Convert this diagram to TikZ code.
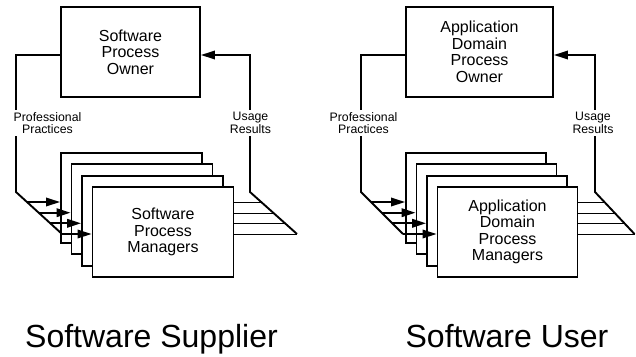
\documentclass[tikz,border=0pt]{standalone}
\usepackage{fontspec}
\setmainfont{Liberation Sans}
\usetikzlibrary{arrows.meta,backgrounds}
\begin{document}
\begin{tikzpicture}[x=1pt,y=-1pt,
  line width=1.9pt, line join=miter,
  box/.style={draw, fill=white, rectangle, inner sep=0pt, minimum height=90pt, align=center, font=\fontsize{16}{16.5}\selectfont},
  lbl/.style={fill=white, inner sep=2.5pt, align=center, font=\fontsize{12.3}{12.5}\selectfont},
  big/.style={anchor=base, inner sep=0pt, font=\fontsize{32}{36}\selectfont},
  tip/.style={-{Triangle[length=14pt,width=8.5pt]}},
]
\useasboundingbox (0,0) rectangle (636,356);

% ===== Left diagram: Software Supplier =====
\node[box, minimum width=139pt] (LO) at (130.5,52) {Software\\Process\\Owner};
\coordinate (La) at (16,55);
\coordinate (Lb) at (16,192);
\coordinate (Lc) at (62,234);
\coordinate (Ra) at (250,55);
\coordinate (Rb) at (250,192);
\coordinate (Rc) at (297,234);
\draw (La -| LO.west) -- (La) -- (Lb) -- (Lc);
\draw[tip] (Rc) -- (Rb) -- (Ra) -- (Ra -| LO.east);

\coordinate (Lp1) at (26.9,202);
\coordinate (Lp2) at (38.7,212.7);
\coordinate (Lp3) at (50.3,223.3);
\coordinate (Lp4) at (62,234);
\coordinate (Rp1) at (261.2,202);
\coordinate (Rp2) at (273.2,212.7);
\coordinate (Rp3) at (285,223.3);
\coordinate (Rp4) at (297,234);

\node[box, minimum width=141pt] (L1) at (131.5,198) {};
\node[box, minimum width=141pt] (L2) at (142,209.3) {};
\node[box, minimum width=141pt] (L3) at (152.5,220.7) {};
\node[box, minimum width=141pt] (L4) at (163,232) {Software\\Process\\Managers};

\begin{scope}[on background layer]
\draw (Rp1 -| L1.east) -- (Rp1);
\draw (Rp2 -| L2.east) -- (Rp2);
\draw (Rp3 -| L3.east) -- (Rp3);
\draw (Rp4 -| L4.east) -- (Rp4);
\end{scope}
\draw[tip] (Lp1) -- (Lp1 -| L1.west);
\draw[tip] (Lp2) -- (Lp2 -| L2.west);
\draw[tip] (Lp3) -- (Lp3 -| L3.west);
\draw[tip] (Lp4) -- (Lp4 -| L4.west);

\node[lbl] (Lpp) at (47.5,123) {Professional\\Practices};
\node[lbl] (Lur) at (250.5,123) {Usage\\Results};
\node[big] (Lsup) at (151.5,347) {Software Supplier};

% ===== Right diagram: Software User =====
\node[box, minimum width=147pt] (RO) at (479.5,52) {Application\\Domain\\Process\\Owner};
\coordinate (Sa) at (361,55);
\coordinate (Sb) at (361,192);
\coordinate (Sc) at (403,234);
\coordinate (Ta) at (595,55);
\coordinate (Tb) at (595,192);
\coordinate (Tc) at (634.5,234);
\draw (Sa -| RO.west) -- (Sa) -- (Sb) -- (Sc);
\draw[tip] (Tc) -- (Tb) -- (Ta) -- (Ta -| RO.east);

\coordinate (Sp1) at (371,202);
\coordinate (Sp2) at (381.7,212.7);
\coordinate (Sp3) at (392.3,223.3);
\coordinate (Sp4) at (403,234);
\coordinate (Tp1) at (604.4,202);
\coordinate (Tp2) at (614.5,212.7);
\coordinate (Tp3) at (624.5,223.3);
\coordinate (Tp4) at (634.5,234);

\node[box, minimum width=140pt] (R1) at (476,198) {};
\node[box, minimum width=140pt] (R2) at (486.5,209.3) {};
\node[box, minimum width=140pt] (R3) at (497,220.7) {};
\node[box, minimum width=140pt] (R4) at (507.5,232) {Application\\Domain\\Process\\Managers};

\begin{scope}[on background layer]
\draw (Tp1 -| R1.east) -- (Tp1);
\draw (Tp2 -| R2.east) -- (Tp2);
\draw (Tp3 -| R3.east) -- (Tp3);
\draw (Tp4 -| R4.east) -- (Tp4);
\end{scope}
\draw[tip] (Sp1) -- (Sp1 -| R1.west);
\draw[tip] (Sp2) -- (Sp2 -| R2.west);
\draw[tip] (Sp3) -- (Sp3 -| R3.west);
\draw[tip] (Sp4) -- (Sp4 -| R4.west);

\node[lbl] (Rpp) at (363.5,123) {Professional\\Practices};
\node[lbl] (Rur) at (593,123) {Usage\\Results};
\node[big] (Ruse) at (507,347) {Software User};
\end{tikzpicture}
\end{document}
